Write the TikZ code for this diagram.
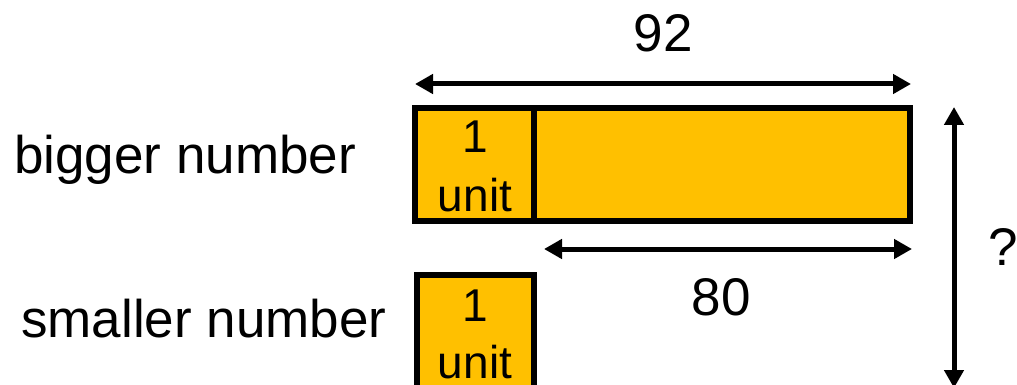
\documentclass[tikz,border=0pt]{standalone}
\usepackage{fontspec}
\setmainfont{Liberation Sans}
\usetikzlibrary{arrows.meta}
\definecolor{barfill}{HTML}{FFC000}
\tikzset{
  bar/.style={draw=black, line width=6.4pt, fill=barfill},
  dim/.style={line width=5pt, {Triangle[length=18pt,width=19pt]}-{Triangle[length=18pt,width=19pt]}},
  lbl/.style={inner sep=0pt, anchor=base, font=\fontsize{53}{60}\selectfont},
  unitlbl/.style={inner sep=0pt, anchor=base, font=\fontsize{46}{52}\selectfont},
}
\begin{document}
\begin{tikzpicture}[x=1pt,y=-1pt]
  \useasboundingbox (0,0) rectangle (1017,385);
  % bigger number: whole bar with one unit marked at its left end
  \draw[bar] (415,108) rectangle (910,221);
  \draw[bar] (415,108) rectangle (534,221);
  \node[unitlbl] (u1a) at (475,153) {1};
  \node[unitlbl] (u1b) at (475,211) {unit};
  % smaller number: one unit, running off the bottom edge
  \draw[bar] (417,275) rectangle (534,420);
  \node[unitlbl] (u2a) at (475,321) {1};
  \node[unitlbl] (u2b) at (475,378) {unit};
  % row labels
  \node[lbl, anchor=base west] (big) at (14,173) {bigger number};
  \node[lbl, anchor=base west] (small) at (21,337) {smaller number};
  % dimension arrows
  \coordinate (t1) at (415,84);
  \coordinate (t2) at (911,84);
  \draw[dim] (t1) -- (t2);
  \node[lbl] (n92) at (663,52) {92};
  \coordinate (d1) at (544,249);
  \coordinate (d2) at (912,249);
  \draw[dim] (d1) -- (d2);
  \node[lbl] (n80) at (721,315) {80};
  \coordinate (v1) at (954,107);
  \coordinate (v2) at (954,388);
  \draw[dim] (v1) -- (v2);
  \node[lbl] (q) at (1003,265) {?};
\end{tikzpicture}
\end{document}
